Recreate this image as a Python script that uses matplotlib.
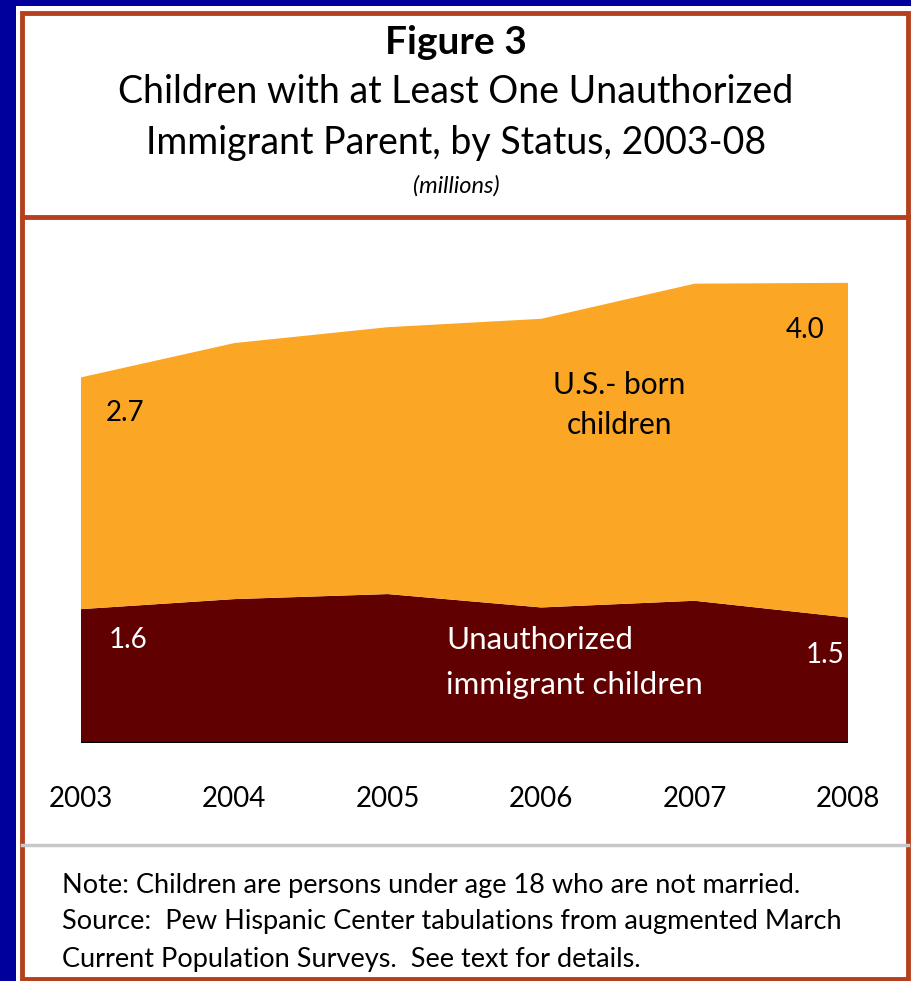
import matplotlib
matplotlib.use('Agg')
import matplotlib.pyplot as plt
from matplotlib.patches import Rectangle
from matplotlib.lines import Line2D

# Data (millions)
years = [2003, 2004, 2005, 2006, 2007, 2008]
unauthorized = [1.6, 1.72, 1.78, 1.62, 1.70, 1.5]
us_born = [2.77, 3.06, 3.19, 3.45, 3.79, 4.0]
year_labels = ['2003', '2004', '2005', '2006', '2007', '2008']

W, H = 912, 981
plt.rcParams['font.family'] = ['Lato', 'DejaVu Sans']

fig = plt.figure(figsize=(W / 100, H / 100), dpi=100, facecolor='#00009c')

def fx(px):
    return px / W

def fy(py):
    return 1 - py / H

border = '#b5401f'
# white panel + red frame
fig.add_artist(Rectangle((fx(16), 0), 1 - fx(16), fy(6), transform=fig.transFigure,
                         facecolor='white', edgecolor='none', zorder=0))
fig.add_artist(Rectangle((fx(22), fy(979)), fx(908) - fx(22), fy(13) - fy(979),
                         transform=fig.transFigure, facecolor='none',
                         edgecolor=border, linewidth=3.5, zorder=1))
fig.add_artist(Line2D([fx(22), fx(908)], [fy(217), fy(217)], transform=fig.transFigure,
                      color=border, linewidth=3.5))
fig.add_artist(Line2D([fx(22), fx(908)], [fy(845), fy(845)], transform=fig.transFigure,
                      color='#c8c8c8', linewidth=2.5))

# titles
fig.text(0.5, fy(42), 'Figure 3', ha='center', va='center', fontsize=28, fontweight='bold')
fig.text(0.5, fy(92), 'Children with at Least One Unauthorized', ha='center', va='center', fontsize=27)
fig.text(0.5, fy(143), 'Immigrant Parent, by Status, 2003-08', ha='center', va='center', fontsize=27)
fig.text(0.5, fy(186), '(millions)', ha='center', va='center', fontsize=17, style='italic')

# chart
ax = fig.add_axes([fx(81), fy(743), fx(848) - fx(81), (743 - 241) / H])
ax.stackplot(years, unauthorized, us_born, colors=['#600000', '#fba624'], linewidth=0)
ax.axhline(0, color='black', linewidth=2.5)
ax.set_xlim(2003, 2008)
ax.set_ylim(0, 6)
ax.set_xticks(years)
ax.set_xticklabels(year_labels, fontsize=20)
ax.tick_params(axis='x', length=0, pad=31)
ax.set_yticks([])
for s in ax.spines.values():
    s.set_visible(False)
ax.patch.set_alpha(0)

ax.text(2003.29, 3.94, '2.7', ha='center', va='center', fontsize=20)
ax.text(2007.72, 4.94, '4.0', ha='center', va='center', fontsize=20)
ax.text(2006.51, 4.28, 'U.S.- born', ha='center', va='center', fontsize=21.5)
ax.text(2006.51, 3.80, 'children', ha='center', va='center', fontsize=21.5)
ax.text(2003.31, 1.23, '1.6', ha='center', va='center', fontsize=20, color='white')
ax.text(2007.98, 1.05, '1.5', ha='right', va='center', fontsize=20, color='white')
ax.text(2005.38, 1.23, 'Unauthorized', ha='left', va='center', fontsize=22.5, color='white')
ax.text(2005.38, 0.69, 'immigrant children', ha='left', va='center', fontsize=22.5, color='white')

# notes
fig.text(fx(62), fy(885), 'Note: Children are persons under age 18 who are not married.',
         ha='left', va='center', fontsize=19.5)
fig.text(fx(62), fy(922), 'Source:  Pew Hispanic Center tabulations from augmented March',
         ha='left', va='center', fontsize=19.5)
fig.text(fx(62), fy(960), 'Current Population Surveys.  See text for details.',
         ha='left', va='center', fontsize=19.5)

plt.savefig('out.png', dpi=100, facecolor=fig.get_facecolor())
